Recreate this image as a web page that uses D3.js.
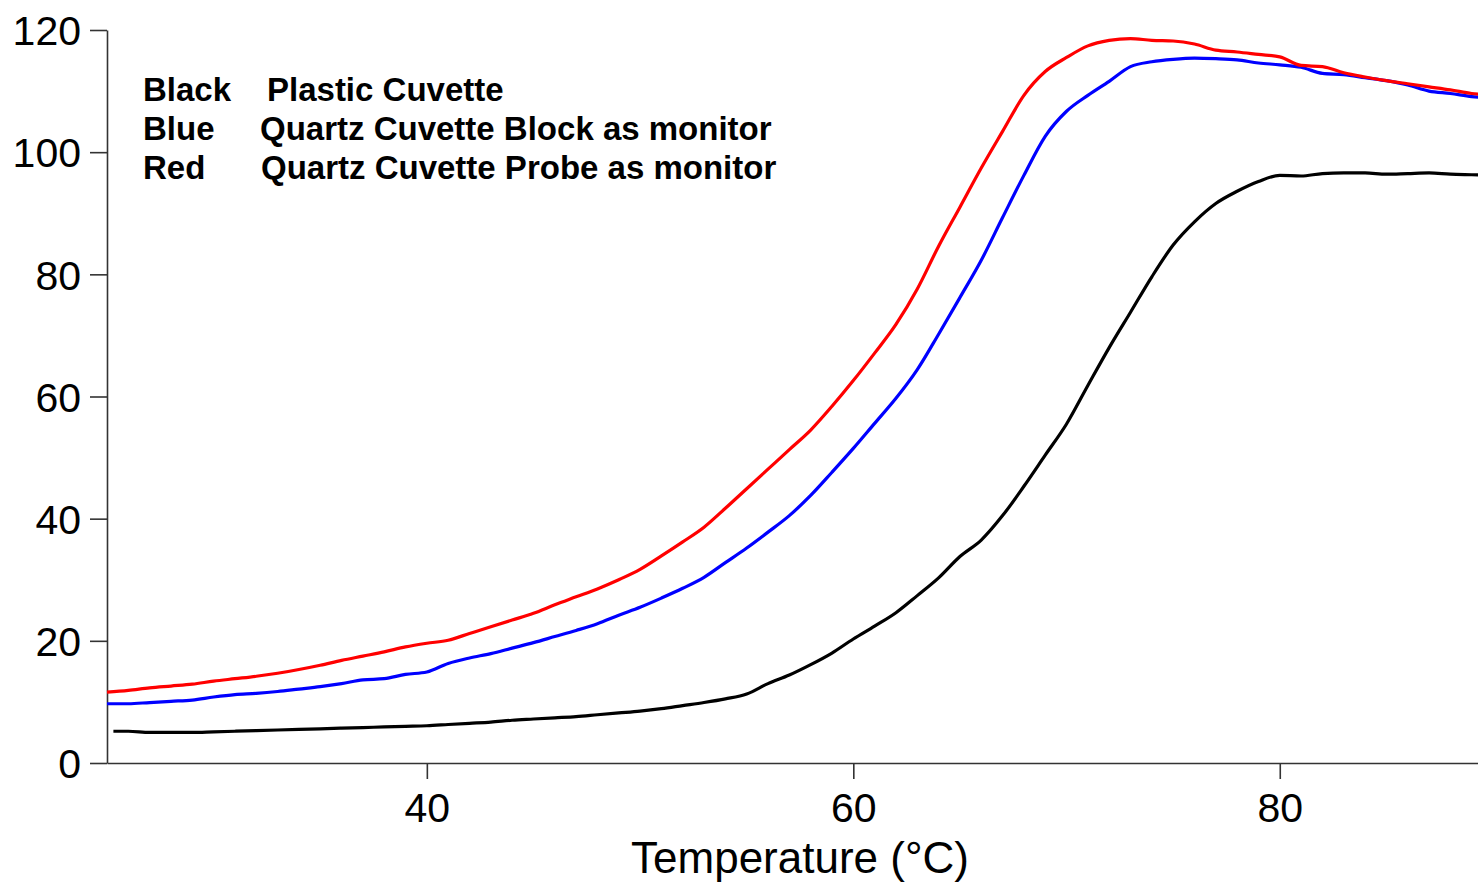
<!DOCTYPE html>
<html>
<head>
<meta charset="utf-8">
<script src="https://cdn.jsdelivr.net/npm/d3@7"></script>
<style>
  html, body { margin: 0; padding: 0; background: #fff; overflow: hidden; }
  svg { display: block; }
</style>
</head>
<body>
<svg id="chart" width="1478" height="883"></svg>
<script>
// ---- data ----
const temps = [25,26,27,28,29,30,31,32,33,34,35,36,37,38,39,40,41,42,43,44,45,46,47,48,49,50,
  51,52,53,54,55,56,57,58,59,60,61,62,63,64,65,66,67,68,69,70,71,72,73,74,75,76,77,78,79,80,
  81,82,83,84,85,86,87,88,89,90];
const tempsBlack = [25.3,26,27,28,29,30,31,32,33,34,35,36,37,38,39,40,41,42,43,44,45,46,47,48,49,50,
  51,52,53,54,55,56,57,58,59,60,61,62,63,64,65,66,67,68,69,70,71,72,73,74,75,76,77,78,79,80,
  81,82,83,84,85,86,87,88,89,90];
const redValues = [11.6,11.9,12.3,12.6,12.9,13.4,13.8,14.2,14.7,15.3,16.0,16.8,17.5,18.2,19.0,19.6,
  20.1,21.2,22.3,23.4,24.5,25.9,27.2,28.5,30.0,31.7,33.9,36.2,38.6,41.7,44.9,48.1,51.3,54.5,58.4,
  62.6,67.1,71.8,77.6,84.6,91.0,97.4,103.4,109.3,113.2,115.5,117.4,118.3,118.6,118.3,118.2,117.7,
  116.7,116.4,116.0,115.6,114.2,114.0,113.0,112.3,111.7,111.2,110.7,110.2,109.6,109.3];
const blueValues = [9.7,9.7,9.9,10.1,10.3,10.8,11.2,11.4,11.7,12.1,12.5,13.0,13.6,13.8,14.5,14.9,
  16.3,17.2,17.9,18.8,19.7,20.7,21.7,22.8,24.2,25.5,27.0,28.6,30.4,32.8,35.2,37.8,40.5,43.8,47.6,
  51.5,55.6,59.7,64.4,70.2,76.2,82.3,89.3,96.2,102.6,106.7,109.3,111.6,114.0,114.8,115.2,115.4,
  115.3,115.1,114.6,114.3,113.9,112.9,112.7,112.2,111.7,111.0,110.0,109.6,109.1,108.8];
const blackValues = [5.2,5.2,5.0,5.0,5.0,5.1,5.2,5.3,5.4,5.5,5.6,5.7,5.8,5.9,6.0,6.1,
  6.3,6.5,6.7,7.0,7.2,7.4,7.6,7.9,8.2,8.5,8.9,9.4,9.9,10.5,11.3,13.0,14.4,16.1,18.0,
  20.3,22.4,24.6,27.4,30.3,33.8,36.5,40.5,45.3,50.4,55.5,61.8,68.0,73.8,79.6,84.8,88.6,
  91.6,93.6,95.2,96.2,96.1,96.5,96.6,96.6,96.4,96.5,96.6,96.4,96.3,96.2];
const xTicks = [40, 60, 80];
const yTicks = [0, 20, 40, 60, 80, 100, 120];
const legendNames = ["Black", "Blue", "Red"];
const legendDescriptions = ["Plastic Cuvette", "Quartz Cuvette Block as monitor", "Quartz Cuvette Probe as monitor"];
const xTitle = "Temperature (\u00B0C)";

// ---- layout ----
const svg = d3.select("#chart");
const mLeft = 107, mRight = 1493, mTop = 30, mBottom = 763;
const x = d3.scaleLinear().domain([25, 90]).range([mLeft, mRight]);
const y = d3.scaleLinear().domain([0, 120]).range([mBottom, mTop]);
const font = "'Liberation Sans', Arial, Helvetica, sans-serif";
const axisColor = "#333";

// y axis
const yAxis = svg.append("g").attr("transform", `translate(${mLeft},0)`)
  .call(d3.axisLeft(y).tickValues(yTicks).tickSize(17).tickPadding(9).tickSizeOuter(0));
// x axis
const xAxis = svg.append("g").attr("transform", `translate(0,${mBottom})`)
  .call(d3.axisBottom(x).tickValues(xTicks).tickSize(16).tickPadding(14).tickSizeOuter(0));

[yAxis, xAxis].forEach(g => {
  g.select(".domain").attr("stroke", axisColor).attr("stroke-width", 1.6);
  g.selectAll(".tick line").attr("stroke", axisColor).attr("stroke-width", 1.6);
  g.selectAll(".tick text").attr("fill", "#000").attr("font-family", font).attr("font-size", 41);
});
yAxis.selectAll(".tick text").attr("dy", "0.36em");

// x axis title
svg.append("text")
  .attr("x", 800).attr("y", 873)
  .attr("text-anchor", "middle")
  .attr("font-family", font).attr("font-size", 44)
  .attr("fill", "#000")
  .text(xTitle);

// lines
const series = [
  { xs: tempsBlack, ys: blackValues, color: "#000000" },
  { xs: temps, ys: blueValues, color: "#0000ff" },
  { xs: temps, ys: redValues, color: "#ff0000" }
];
const line = d3.line()
  .x(d => x(d[0])).y(d => y(d[1]))
  .curve(d3.curveMonotoneX);
series.forEach(s => {
  const pts = s.xs.map((t, i) => [t, s.ys[i]]);
  svg.append("path")
    .attr("d", line(pts))
    .attr("fill", "none")
    .attr("stroke", s.color)
    .attr("stroke-width", 3.2)
    .attr("stroke-linejoin", "round");
});

// legend text
const legendX2 = [267, 260, 261];
const legendY = [101, 140, 179];
legendNames.forEach((n, i) => {
  svg.append("text")
    .attr("x", 143).attr("y", legendY[i])
    .attr("font-family", font).attr("font-weight", "bold").attr("font-size", 33)
    .attr("fill", "#000").text(n);
  svg.append("text")
    .attr("x", legendX2[i]).attr("y", legendY[i])
    .attr("font-family", font).attr("font-weight", "bold").attr("font-size", 33)
    .attr("fill", "#000").text(legendDescriptions[i]);
});
</script>
</body>
</html>
